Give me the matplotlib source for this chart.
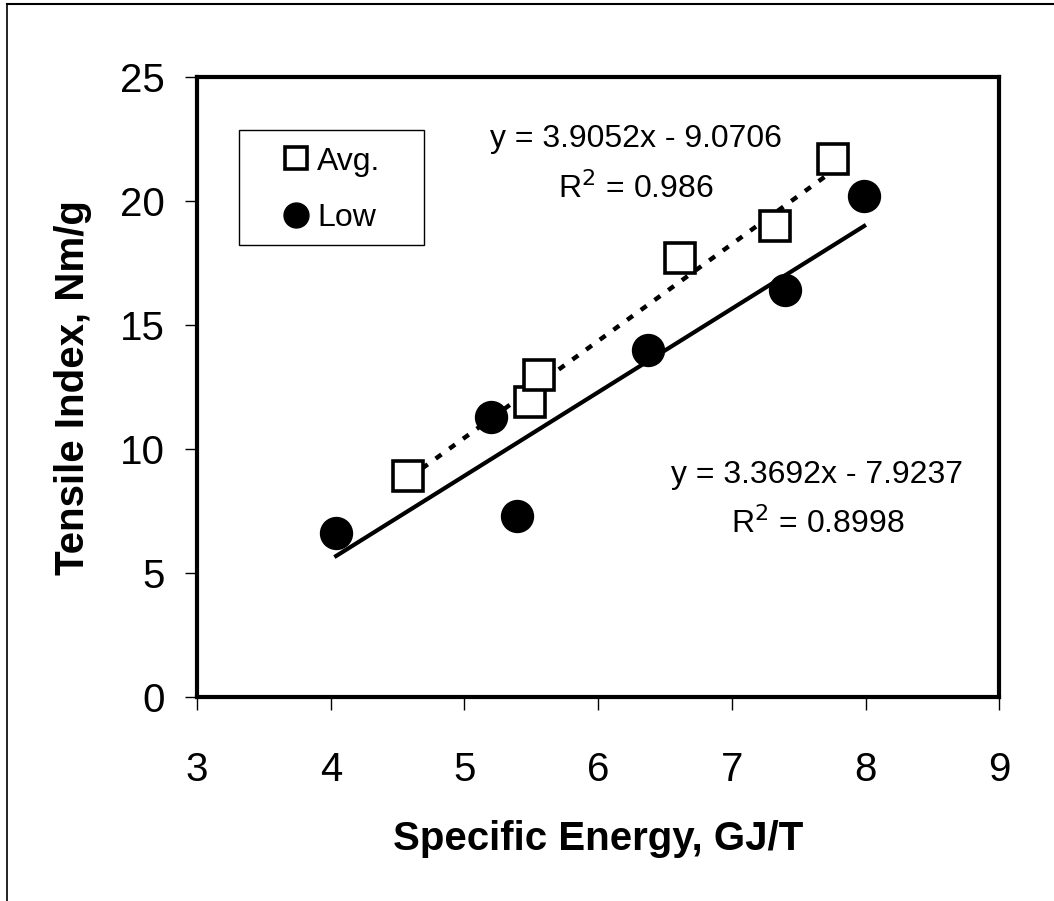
import matplotlib.pyplot as plt
import matplotlib.patches as patches
import matplotlib.lines as mlines
import numpy as np

plt.rcParams['font.family'] = ['Liberation Sans', 'DejaVu Sans']

# data
avgX = [4.58, 5.49, 5.56, 6.61, 7.32, 7.76]
avgY = [8.9, 11.9, 13.0, 17.7, 19.0, 21.7]
lowX = [4.04, 5.20, 5.39, 6.37, 7.40, 7.99]
lowY = [6.6, 11.3, 7.3, 14.0, 16.4, 20.2]

# trend line coefficients, as printed on the chart
avgFit = (3.9052, -9.0706)
lowFit = (3.3692, -7.9237)
avgEq = ["y = 3.9052x - 9.0706", "R$^2$ = 0.986"]
lowEq = ["y = 3.3692x - 7.9237", "R$^2$ = 0.8998"]

xTicks = [3, 4, 5, 6, 7, 8, 9]
yTicks = [0, 5, 10, 15, 20, 25]

fig = plt.figure(figsize=(10.54, 9.01), dpi=100)
ax = fig.add_axes([0.187, 0.2264, 0.761, 0.688])

#trend lines drawn over each series' x range
xa = np.array([min(avgX), max(avgX)])
ax.plot(xa, avgFit[0] * xa + avgFit[1], color="black", lw=3.2, linestyle=(0, (1.6, 2.2)), zorder=2)
xl = np.array([min(lowX), max(lowX)])
ax.plot(xl, lowFit[0] * xl + lowFit[1], color="black", lw=3.0, zorder=2)

ax.plot(avgX, avgY, linestyle="none", marker="s", ms=21, mfc="white", mec="black", mew=2.6, label="Avg.", zorder=3)
ax.plot(lowX, lowY, linestyle="none", marker="o", ms=23, mfc="black", mec="black", label="Low", zorder=3)

ax.set_xlim(3, 9)
ax.set_ylim(0, 25)
ax.set_xticks(xTicks)
ax.set_yticks(yTicks)
ax.tick_params(direction="out", length=9, width=1, labelsize=29)
ax.tick_params(axis="x", pad=30)
ax.tick_params(axis="y", pad=14)
for s in ax.spines.values():
	s.set_linewidth(3)

ax.set_xlabel("Specific Energy, GJ/T", fontsize=29, fontweight="bold", labelpad=22)
ax.set_ylabel("Tensile Index, Nm/g", fontsize=29, fontweight="bold", labelpad=20)

ax.text(6.28, 22.5, avgEq[0], ha="center", va="center", fontsize=23)
ax.text(6.28, 20.5, avgEq[1], ha="center", va="center", fontsize=23)
ax.text(7.64, 8.95, lowEq[0], ha="center", va="center", fontsize=23)
ax.text(7.64, 7.0, lowEq[1], ha="center", va="center", fontsize=23)

# legend without its own frame; the frame is drawn as a separate box like the original
handles, labels = ax.get_legend_handles_labels()
leg = ax.legend(handles, labels, loc="upper left", bbox_to_anchor=(0.106, 0.888), fontsize=23,
	frameon=False, borderpad=0, borderaxespad=0, handlelength=0.9,
	handletextpad=0.2, labelspacing=0.83, markerscale=0.78)
ax.add_patch(patches.Rectangle((0.0524, 0.729), 0.2307, 0.1855, transform=ax.transAxes,
	fill=False, edgecolor="black", lw=1, zorder=4))

#scanned page edge: top and left only
fig.add_artist(mlines.Line2D([0.007, 1.0], [0.996, 0.996], color="black", lw=1.5))
fig.add_artist(mlines.Line2D([0.007, 0.007], [0.0, 0.996], color="black", lw=1.2))

fig.savefig("out.png", dpi=100)
